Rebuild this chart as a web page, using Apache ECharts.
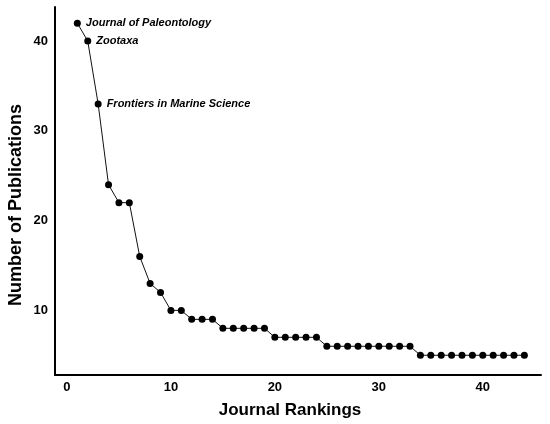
<!DOCTYPE html>
<html><head><meta charset="utf-8">
<script src="https://cdn.jsdelivr.net/npm/echarts@6/dist/echarts.min.js"></script>
<style>html,body{margin:0;padding:0;background:#fff}#c{width:550px;height:424px}</style>
</head><body><div id="c"></div>
<script>
const rankings = Array.from({length:44},(_,i)=>i+1);
const publications = [42,40,33,24,22,22,16,13,12,10,10,9,9,9,8,8,8,8,8,7,7,7,7,7,6,6,6,6,6,6,6,6,6,5,5,5,5,5,5,5,5,5,5,5];
const journalLabels = {1:'Journal of Paleontology',2:'Zootaxa',3:'Frontiers in Marine Science'};
const xTicks = [0,10,20,30,40];
const yTicks = [10,20,30,40];
const xTitle = 'Journal Rankings';
const yTitle = 'Number of Publications';
const data = rankings.map((r,i)=>{
  const d = {value:[r,publications[i]]};
  if (journalLabels[r]) d.label = {show:true, formatter: journalLabels[r]};
  return d;
});
const chart = echarts.init(document.getElementById('c'));
const font = 'Liberation Sans, Arial, sans-serif';
chart.setOption({
  animation:false,
  grid:{left:55,right:9,top:7,bottom:49,containLabel:false},
  graphic:[
    {type:'text',x:290,y:410,style:{text:xTitle,font:'bold 17px '+font,fill:'#000',align:'center',verticalAlign:'middle'}},
    {type:'text',x:16,y:205,rotation:Math.PI/2,style:{text:yTitle,font:'bold 18px '+font,fill:'#000',align:'center',verticalAlign:'middle'}}
  ],
  xAxis:{type:'value',min:-1.15,max:45.6,
    axisLine:{show:true,onZero:false,lineStyle:{color:'#000',width:2}},
    axisTick:{show:false},splitLine:{show:false},
    axisLabel:{customValues:xTicks,fontFamily:font,fontWeight:'bold',fontSize:13,color:'#000',margin:6}},
  yAxis:{type:'value',min:2.8,max:43.8,
    axisLine:{show:true,onZero:false,lineStyle:{color:'#000',width:2}},
    axisTick:{show:false},splitLine:{show:false},
    axisLabel:{customValues:yTicks,fontFamily:font,fontWeight:'bold',fontSize:13,color:'#000',margin:7}},
  series:[{type:'line',data:data,symbol:'circle',symbolSize:7,
    itemStyle:{color:'#000'},lineStyle:{color:'#111',width:1},
    label:{show:false,position:'right',distance:5,fontFamily:font,fontWeight:'bold',fontStyle:'italic',fontSize:11,color:'#000'}}]
});
</script></body></html>
